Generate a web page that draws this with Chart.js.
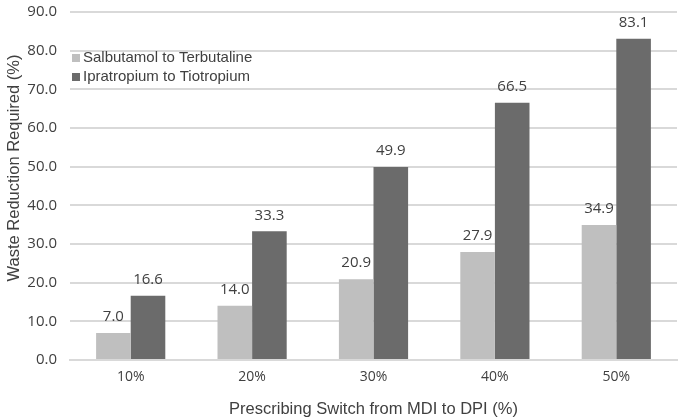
<!DOCTYPE html>
<html><head><meta charset="utf-8">
<script src="https://cdn.jsdelivr.net/npm/chart.js@4"></script>
<style>html,body{margin:0;padding:0;background:#fff;}#wrap{width:681px;height:419px;}</style>
</head><body><div id="wrap"><canvas id="c" width="681" height="419"></canvas></div>
<script>
const categories = ['10%','20%','30%','40%','50%'];
const salbutamol = [7.0, 14.0, 20.9, 27.9, 34.9];
const ipratropium = [16.6, 33.3, 49.9, 66.5, 83.1];
const seriesNames = ['Salbutamol to Terbutaline','Ipratropium to Tiotropium'];
const xTitle = 'Prescribing Switch from MDI to DPI (%)';
const yTitle = 'Waste Reduction Required (%)';

const labelPlugin = {
  id:'vals',
  afterDatasetsDraw(chart){
    const ctx = chart.ctx;
    ctx.save();
    ctx.font = '15px "Open Sans", sans-serif';
    ctx.fillStyle = '#404040';
    ctx.textAlign = 'center';
    ctx.textBaseline = 'middle';
    chart.data.datasets.forEach((ds,i)=>{
      chart.getDatasetMeta(i).data.forEach((bar,j)=>{
        ctx.fillText(ds.data[j].toFixed(1), bar.x, bar.y - 16);
      });
    });
    ctx.restore();
  }
};
const legendPlugin = {
  id:'inlegend',
  afterDraw(chart){
    const ctx = chart.ctx, a = chart.chartArea;
    ctx.save();
    ctx.font = '15px "Liberation Sans", Arial, sans-serif';
    ctx.textBaseline = 'middle';
    chart.data.datasets.forEach((ds,i)=>{
      const y = a.top + 46 + i*19;
      ctx.fillStyle = ds.backgroundColor;
      ctx.fillRect(a.left + 2, y-4, 8, 8);
      ctx.fillStyle = '#404040';
      ctx.fillText(ds.label, a.left + 13, y);
    });
    ctx.font = '16.5px "Liberation Sans", Arial, sans-serif';
    ctx.textAlign = 'center';
    ctx.translate(14, 168);
    ctx.rotate(-Math.PI/2);
    ctx.fillText(yTitle, 0, 0);
    ctx.restore();
  }
};

new Chart(document.getElementById('c'), {
  type:'bar',
  data:{
    labels:categories,
    datasets:[
      {label:seriesNames[0], data:salbutamol, backgroundColor:'#bfbfbf'},
      {label:seriesNames[1], data:ipratropium, backgroundColor:'#6b6b6b'}
    ]
  },
  options:{
    responsive:false, animation:false,
    layout:{padding:{top:12,right:4,left:0,bottom:0}},
    datasets:{bar:{categoryPercentage:0.57, barPercentage:1.0}},
    plugins:{legend:{display:false}, tooltip:{enabled:false}},
    scales:{
      x:{
        grid:{display:false, drawTicks:false},
        border:{display:true, color:'#d9d9d9', width:2},
        ticks:{color:'#404040', font:{family:'"Open Sans", sans-serif', size:14}, padding:9},
        title:{display:true, text:xTitle, color:'#404040', font:{family:'"Liberation Sans", Arial, sans-serif', size:16.5}, padding:{top:6,bottom:0}},
        afterFit(s){ s.height = 59; s.paddingLeft = 0; s.paddingRight = 0; }
      },
      y:{
        min:0, max:90,
        ticks:{stepSize:10, color:'#404040', font:{family:'"Open Sans", sans-serif', size:15}, padding:13, callback:v=>v.toFixed(1)},
        grid:{color:'#d9d9d9', lineWidth:2, drawTicks:false},
        border:{display:false},
        title:{display:false},
        afterFit(s){ s.width = 70; s.paddingTop = 0; s.paddingBottom = 0; }
      }
    }
  },
  plugins:[labelPlugin, legendPlugin]
});
</script></body></html>
